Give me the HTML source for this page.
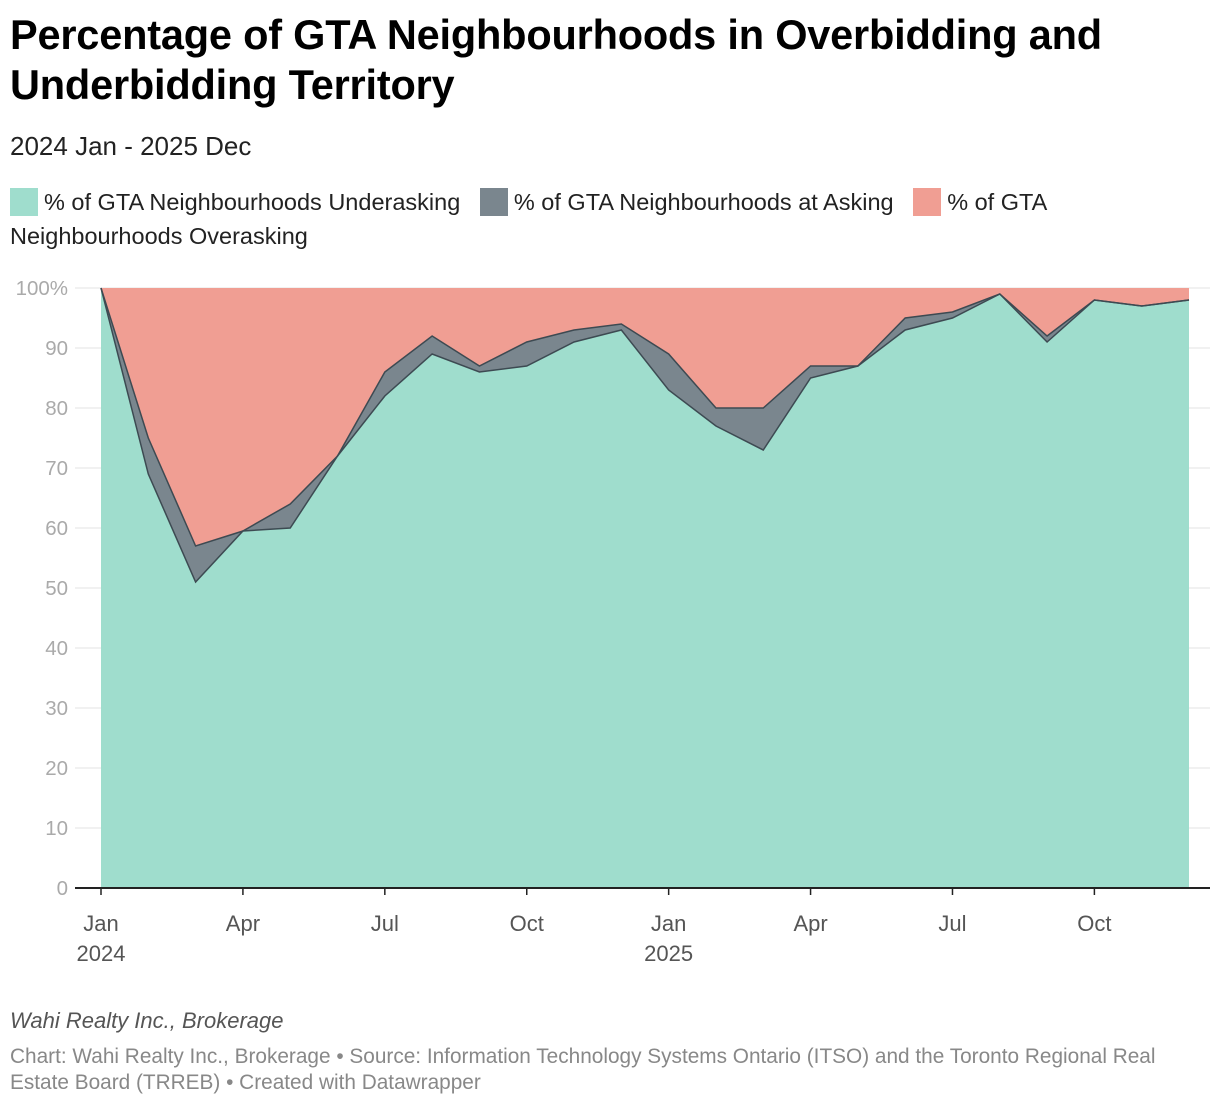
<!DOCTYPE html>
<html><head><meta charset="utf-8"><style>
body{margin:0;width:1220px;height:1110px;background:#fff;font-family:"Liberation Sans",sans-serif;position:relative;overflow:hidden}
.t{position:absolute;left:10px;top:10px;font-size:41.5px;font-weight:bold;line-height:50px;color:#000;letter-spacing:-0.2px}
.s{position:absolute;left:10px;top:131px;font-size:26px;color:#222}
.lg{position:absolute;left:10px;top:185px;width:1100px;font-size:23.5px;line-height:34px;color:#222}
.sw{display:inline-block;width:28px;height:28px;vertical-align:-6px;margin-right:6px}
.f1{position:absolute;left:10px;top:1008px;font-size:22px;font-style:italic;color:#555}
.f2{position:absolute;left:10px;top:1044px;font-size:20.8px;color:#888;line-height:26px;width:1195px}
</style></head><body>
<div class="t">Percentage of GTA Neighbourhoods in Overbidding and<br>Underbidding Territory</div>
<div class="s">2024 Jan - 2025 Dec</div>
<div class="lg"><span><span class="sw" style="background:#9fddcd"></span>% of GTA Neighbourhoods Underasking</span>&nbsp;&nbsp;&nbsp;<span><span class="sw" style="background:#7a868e"></span>% of GTA Neighbourhoods at Asking</span>&nbsp;&nbsp;&nbsp;<span><span class="sw" style="background:#f09e93"></span>% of GTA Neighbourhoods Overasking</span></div>
<svg id="c" width="1220" height="1110" style="position:absolute;left:0;top:0"></svg>
<div class="f1">Wahi Realty Inc., Brokerage</div>
<div class="f2">Chart: Wahi Realty Inc., Brokerage • Source: Information Technology Systems Ontario (ITSO) and the Toronto Regional Real Estate Board (TRREB) • Created with Datawrapper</div>
<script>
const months=["2024-01","2024-02","2024-03","2024-04","2024-05","2024-06","2024-07","2024-08","2024-09","2024-10","2024-11","2024-12","2025-01","2025-02","2025-03","2025-04","2025-05","2025-06","2025-07","2025-08","2025-09","2025-10","2025-11","2025-12"];
const underasking=[100,69,51,59.5,60,72,82,89,86,87,91,93,83,77,73,85,87,93,95,99,91,98,97,98];
const atAsking=[0,6,6,0,4,0,4,3,1,4,2,1,6,3,7,2,0,2,1,0,1,0,0,0];
const yTicks=[0,10,20,30,40,50,60,70,80,90,100];
const xTickIdx=[0,3,6,9,12,15,18,21];
const xTickLabels=["Jan","Apr","Jul","Oct","Jan","Apr","Jul","Oct"];
const xTickYears=["2024","","","","2025","","",""];
const svg=document.getElementById('c');const NS="http://www.w3.org/2000/svg";
const X=i=>101+i*(1189-101)/(months.length-1);
const Y=v=>888-v*6;
function el(t,a){const e=document.createElementNS(NS,t);for(const k in a)e.setAttribute(k,a[k]);svg.appendChild(e);return e;}
yTicks.forEach(v=>{
 const g=el('line',{x1:75,x2:1210,y1:Y(v),y2:Y(v),stroke:'#e3e3e3','stroke-width':1});
 
 
 const t=el('text',{x:68,y:Y(v)+7,'text-anchor':'end','font-size':20.5,fill:'#aaa','font-family':'Liberation Sans'});
 t.textContent=v===100?'100%':v;
 
 
});
const top2=underasking.map((u,i)=>u+atAsking[i]);
function area(top,bot,fill,name){
 let d='M'+top.map((v,i)=>X(i)+','+Y(v)).join('L');
 for(let i=bot.length-1;i>=0;i--)d+='L'+X(i)+','+Y(bot[i]);
 const p=el('path',{d:d+'Z',fill:fill});
 
 
}
area(months.map(()=>100),top2,'#f09e93','area-overasking');
area(top2,underasking,'#7a868e','area-at-asking');
area(underasking,months.map(()=>0),'#9fddcd','area-underasking');
[top2,underasking].forEach((s,k)=>{
 const l=el('path',{d:'M'+s.map((v,i)=>X(i)+','+Y(v)).join('L'),fill:'none',stroke:'#3d4a52','stroke-width':1.5});
 
 
});
const ax=el('line',{x1:75,x2:1210,y1:888,y2:888,stroke:'#222','stroke-width':2});


xTickIdx.forEach((m,j)=>{
 el('line',{x1:X(m),x2:X(m),y1:888,y2:895,stroke:'#222','stroke-width':1.5});
 const t=el('text',{x:X(m),y:931,'text-anchor':'middle','font-size':22,fill:'#555','font-family':'Liberation Sans'});
 t.textContent=xTickLabels[j];
 
 
 if(xTickYears[j]){const y=el('text',{x:X(m),y:961,'text-anchor':'middle','font-size':22,fill:'#555','font-family':'Liberation Sans'});y.textContent=xTickYears[j];
 
 }
});
</script>
</body></html>
